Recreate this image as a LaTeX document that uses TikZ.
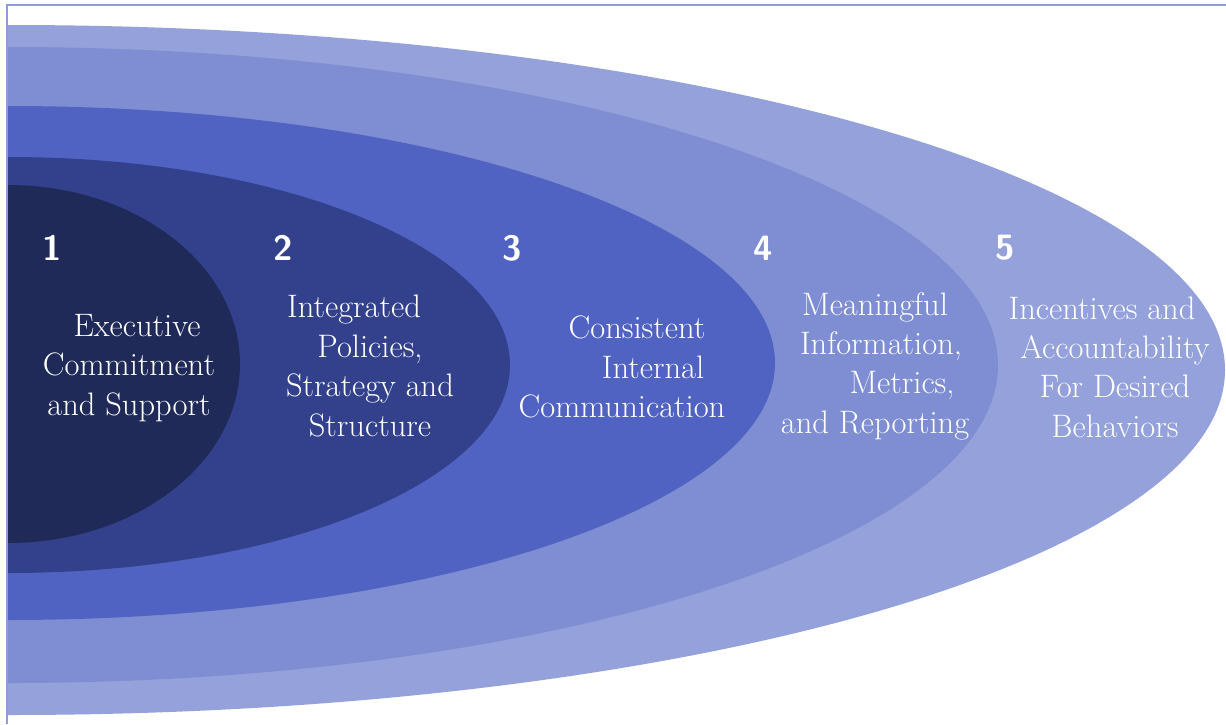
\documentclass[tikz,border=0pt]{standalone}
\usepackage{fontspec}
\usepackage{tikz}

\definecolor{ringA}{HTML}{1F2A58}
\definecolor{ringB}{HTML}{33418D}
\definecolor{ringC}{HTML}{5063C2}
\definecolor{ringD}{HTML}{7F8ED2}
\definecolor{ringE}{HTML}{95A1DA}
\definecolor{frame}{HTML}{8E9BE0}

\tikzset{
	lbl/.style={text=white, align=center, font=\fontsize{18.5}{22.4}\selectfont},
	num/.style={text=white, font=\fontsize{20}{24}\sffamily\bfseries}
}

\begin{document}
\begin{tikzpicture}[x=0.2mm, y=-0.2mm]
			\useasboundingbox (0,0) rectangle (1226,724);
			% Rings
			\begin{scope}
				\clip (8,0) rectangle (1226,724);
				\foreach \rx/\ry/\cy/\col in {1217/345/370/ringE, 990/318/365/ringD, 767/257/363/ringC, 502/208/365/ringB, 232/179/364/ringA} {
					\fill[\col] (8,\cy) ellipse [x radius=\rx, y radius=\ry];
				}
			\end{scope}
			\draw[frame, line width=0.4mm] (7,724) -- (7,5) -- (1226,5);
			% Numbers
			\foreach \i/\x in {1/52,2/283,3/512,4/763,5/1005} {
				\node[num] (num\i) at (\x,248) {\i};
			}
			% Labels
			\node[lbl] (exec) at (129,368) {\hspace*{3.2mm}Executive\\Commitment\\and Support};
			\node[lbl] (policy) at (370,366) {Integrated\hspace*{6.4mm}\\Policies,\\Strategy and\\Structure};
			\node[lbl] (comm) at (637,367) {Consistent\\\hspace*{6.4mm}Internal\\Communication\hspace*{6mm}};
			\node[lbl] (info) at (875,366) {Meaningful\\\hspace*{2.4mm}Information,\\\hspace*{10.8mm}Metrics,\\and Reporting};
			\node[lbl] (incent) at (1115,367) {Incentives and\hspace*{5.2mm}\\Accountability\\For Desired\\Behaviors};
		\end{tikzpicture}
\end{document}
